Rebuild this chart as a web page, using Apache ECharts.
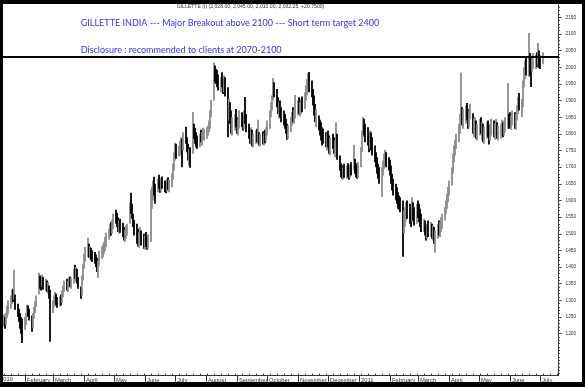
<!DOCTYPE html>
<html><head><meta charset="utf-8">
<script src="https://cdn.jsdelivr.net/npm/echarts@6/dist/echarts.min.js"></script>
<style>html,body{margin:0;padding:0;background:#fff;overflow:hidden}#c{width:585px;height:387px}</style>
</head><body><div id="c"></div>
<script>
// ---- data (one entry per trading day, weekdays from startDate) ----
const startDate = [2010, 0, 11];
const hi = [
1258,1250,1262,1285,1300, 1315,1332,1335,1392,1318, 1290,1275,1262,1250,1245, 1250,1262,1287,1285,1275,
1255,1262,1280,1298,1315, 1383,1375,1368,1378,1370, 1365,1360,1355,1345,1332, 1300,1315,1325,1320,1310,
1312,1318,1330,1345,1360, 1365,1358,1370,1372,1368, 1395,1407,1400,1395,1370, 1342,1375,1410,1440,1460,
1488,1470,1462,1458,1450, 1445,1438,1428,1420,1450, 1462,1468,1475,1490,1503, 1515,1530,1535,1542,1560,
1572,1563,1550,1540,1545, 1533,1520,1512,1525,1530, 1595,1623,1590,1560,1542, 1530,1515,1505,1520,1510,
1500,1495,1505,1490,1498, 1632,1641,1660,1671,1650, 1665,1677,1660,1668,1672, 1660,1655,1665,1670,1662,
1680,1710,1745,1773,1770, 1765,1780,1790,1785,1805, 1821,1790,1770,1755,1760, 1866,1830,1818,1805,1795,
1800,1812,1805,1818,1815, 1820,1825,1840,1870,1902, 2014,2005,1995,1992,1978, 1970,1985,1965,1975,1970,
1940,1905,1895,1870,1850, 1860,1875,1850,1845,1870, 1865,1855,1870,1911,1860, 1830,1815,1820,1812,1800,
1810,1815,1842,1805,1800, 1808,1800,1812,1820,1840, 1870,1895,1915,1968,1955, 1935,1910,1895,1900,1880,
1870,1860,1845,1830,1825, 1850,1865,1880,1870,1917, 1900,1910,1895,1905,1912, 1925,1945,1965,1983,1986,
1960,1935,1915,1890,1875, 1855,1842,1835,1820,1815, 1805,1800,1810,1795,1790, 1800,1790,1780,1835,1800,
1735,1712,1705,1700,1710, 1705,1712,1700,1708,1715, 1767,1725,1712,1705,1715, 1760,1810,1851,1845,1830,
1820,1800,1810,1805,1790, 1765,1745,1730,1710,1700, 1700,1720,1740,1752,1745, 1730,1722,1705,1680,1665,
1650,1640,1625,1615,1610, 1600,1570,1580,1595,1600, 1590,1575,1610,1595,1580, 1590,1600,1590,1575,1560,
1545,1540,1525,1530,1540, 1535,1530,1525,1520,1510, 1530,1540,1535,1550,1560, 1580,1600,1620,1641,1660,
1700,1740,1765,1782,1800, 1830,1860,1984,1880,1875, 1885,1893,1875,1870,1890, 1862,1845,1851,1840,1830,
1845,1850,1835,1830,1820, 1835,1840,1825,1830,1845, 1840,1830,1845,1835,1825, 1830,1842,1835,1840,1850,
1953,1860,1865,1855,1870, 1865,1860,1885,1910,1923, 1905,1960,2000,2020,2031, 2103,2043,2030,2035,2043,
2040,2045,2073,2050,2035, 2045];
const lo = [
1222,1215,1225,1248,1258, 1275,1290,1295,1302,1272, 1250,1235,1215,1200,1172, 1212,1225,1250,1252,1240,
1206,1218,1245,1262,1280, 1318,1335,1330,1340,1332, 1328,1325,1320,1305,1176, 1262,1280,1290,1285,1278,
1282,1285,1292,1310,1325, 1330,1325,1338,1340,1335, 1350,1365,1355,1350,1335, 1305,1315,1360,1395,1415,
1430,1428,1425,1420,1415, 1410,1400,1385,1368,1405, 1425,1430,1440,1448,1460, 1482,1490,1495,1500,1515,
1530,1520,1505,1500,1503, 1490,1480,1475,1485,1495, 1530,1560,1545,1520,1495, 1470,1462,1458,1475,1465,
1455,1452,1460,1452,1455, 1475,1575,1600,1615,1590, 1625,1635,1623,1628,1635, 1625,1622,1628,1632,1625,
1640,1662,1690,1720,1725, 1731,1735,1745,1700,1750, 1770,1745,1720,1705,1698, 1740,1785,1770,1760,1755,
1760,1775,1765,1782,1780, 1785,1795,1805,1815,1850, 1900,1955,1950,1940,1930, 1925,1940,1920,1925,1912,
1790,1840,1830,1800,1795, 1810,1820,1800,1795,1815, 1820,1810,1815,1830,1805, 1785,1770,1768,1762,1760,
1770,1775,1770,1765,1762, 1768,1765,1772,1778,1795, 1815,1850,1870,1900,1910, 1880,1860,1845,1850,1835,
1825,1815,1800,1782,1785, 1805,1825,1835,1830,1845, 1855,1860,1852,1860,1865, 1875,1900,1915,1930,1925,
1910,1885,1855,1835,1820, 1810,1795,1780,1765,1770, 1760,1750,1760,1740,1735, 1755,1740,1730,1760,1722,
1690,1670,1665,1662,1668, 1665,1670,1662,1668,1675, 1690,1680,1670,1665,1668, 1700,1745,1790,1795,1775,
1765,1745,1755,1750,1735, 1715,1700,1680,1665,1650, 1611,1675,1695,1705,1700, 1690,1675,1650,1630,1615,
1600,1590,1575,1572,1565, 1431,1500,1520,1540,1545, 1530,1520,1535,1540,1525, 1530,1548,1535,1520,1505,
1505,1495,1480,1485,1490, 1490,1485,1480,1470,1443, 1485,1495,1490,1505,1515, 1540,1560,1575,1595,1615,
1645,1680,1715,1735,1755, 1775,1800,1830,1825,1815, 1830,1840,1815,1820,1845, 1800,1790,1800,1785,1780,
1795,1800,1780,1775,1770, 1785,1790,1768,1780,1795, 1790,1782,1795,1785,1780, 1785,1795,1790,1795,1805,
1815,1815,1820,1812,1825, 1815,1812,1840,1860,1870, 1850,1880,1940,1965,1975, 1971,1975,1941,1985,1995,
1995,2000,2005,1998,1995, 2010];
const cl = [
1240,1228,1255,1270,1282, 1300,1318,1310,1330,1285, 1262,1248,1230,1222,1212, 1238,1255,1278,1262,1250,
1222,1250,1272,1290,1305, 1362,1350,1345,1365,1342, 1350,1335,1340,1318,1262, 1290,1305,1312,1298,1292,
1300,1295,1318,1335,1348, 1342,1350,1360,1352,1358, 1380,1372,1385,1360,1345, 1318,1365,1398,1425,1445,
1450,1440,1452,1435,1430, 1425,1412,1400,1410,1438, 1445,1455,1465,1480,1492, 1505,1520,1510,1530,1548,
1545,1530,1515,1525,1512, 1505,1492,1500,1510,1520, 1580,1575,1555,1530,1505, 1490,1480,1495,1500,1478,
1470,1485,1475,1468,1480, 1610,1625,1640,1632,1620, 1648,1640,1635,1655,1645, 1638,1632,1650,1640,1645,
1670,1700,1732,1755,1740, 1750,1765,1775,1760,1795, 1780,1755,1735,1745,1738, 1815,1800,1785,1775,1770,
1790,1785,1795,1800,1805, 1810,1815,1830,1860,1890, 1990,1975,1968,1955,1948, 1960,1950,1935,1962,1925,
1850,1880,1845,1820,1835, 1845,1830,1815,1830,1848, 1835,1825,1850,1845,1820, 1800,1790,1805,1780,1788,
1795,1785,1790,1778,1790, 1780,1795,1788,1810,1830, 1860,1885,1905,1945,1925, 1895,1875,1880,1862,1850,
1840,1828,1815,1800,1810, 1840,1850,1845,1862,1870, 1885,1875,1880,1890,1885, 1915,1930,1950,1960,1945,
1930,1900,1870,1850,1860, 1825,1815,1800,1790,1785, 1775,1785,1770,1760,1775, 1770,1758,1765,1790,1735,
1705,1690,1680,1688,1682, 1690,1685,1678,1695,1690, 1710,1692,1688,1680,1700, 1750,1800,1835,1810,1790,
1780,1770,1795,1760,1748, 1730,1715,1695,1680,1670, 1685,1705,1725,1735,1715, 1705,1690,1665,1645,1630,
1615,1605,1590,1585,1580, 1520,1545,1560,1575,1560, 1555,1540,1580,1565,1550, 1575,1560,1545,1530,1520,
1525,1510,1500,1515,1505, 1520,1500,1510,1490,1495, 1515,1510,1525,1540,1545, 1570,1590,1605,1630,1650,
1690,1725,1750,1770,1790, 1815,1845,1865,1850,1860, 1870,1855,1830,1860,1875, 1815,1825,1835,1800,1815,
1830,1810,1820,1795,1805, 1815,1800,1790,1815,1820, 1805,1815,1830,1800,1810, 1815,1825,1810,1830,1835,
1845,1840,1835,1845,1850, 1840,1855,1875,1895,1885, 1890,1950,1985,2005,1995, 2030,2010,1990,2020,2025,
2030,2015,2040,2020,2011.5, 2032.25];

const yTickLabels = [1200,1250,1300,1350,1400,1450,1500,1550,1600,1650,1700,1750,1800,1850,1900,1950,2000,2050,2100,2150];
const monthLabelDates = [[2010,1],[2010,2],[2010,3],[2010,4],[2010,5],[2010,6],[2010,7],[2010,8],[2010,9],[2010,10],[2010,11],
  [2011,0],[2011,1],[2011,2],[2011,3],[2011,4],[2011,5],[2011,6]];
const monthNames = ['January','February','March','April','May','June','July','August','September','October','November','December'];
const refLevel = 2032;
const headerText = 'GILLETTE (I) (2,028.00, 2,045.00, 2,010.00, 2,032.25, +20.7500)';
const note1 = 'GILLETTE INDIA --- Major Breakout above 2100 --- Short term target 2400';
const note2 = 'Disclosure : recommended to clients at 2070-2100';

// ---- build ----
const DAY = 86400000;
const dates = [];
let t = Date.UTC(startDate[0], startDate[1], startDate[2]);
while (dates.length < hi.length) {
  const wd = new Date(t).getUTCDay();
  if (wd !== 0 && wd !== 6) dates.push(t);
  t += DAY;
}
const xMin = Date.UTC(2010,0,10);
const xMax = Date.UTC(2011,6,19) + DAY/2;
const monthTicks = monthLabelDates.map(d => Date.UTC(d[0], d[1], 1));
const weekTicks = [];
for (let w = Date.UTC(2010,0,11); w < xMax; w += 7*DAY) weekTicks.push(w);
const yMinor = [];
for (let v = 1080; v <= 2180; v += 10) yMinor.push(v);

const barData = dates.map((d,i) => [d, lo[i], hi[i], (i > 0 && cl[i] < cl[i-1]) ? 1 : 0]);

// font size that makes a text line as wide as in the reference
const mctx = document.createElement('canvas').getContext('2d');
function fitSize(text, family, width) {
  mctx.font = '100px ' + family;
  return 100 * width / mctx.measureText(text).width;
}
const noteFamily = 'Lato';
const noteSize = fitSize(note1, noteFamily, 299);
const axisFont = 'Liberation Sans';
const headSize = fitSize(headerText, axisFont, 148);

const chart = echarts.init(document.getElementById('c'), null, {renderer:'canvas'});
chart.setOption({
  animation: false,
  backgroundColor: '#fff',
  grid: {left: 3, right: 26.5, top: 5, bottom: 11.3},
  xAxis: [{
    type: 'value', min: xMin, max: xMax,
    axisLine: {show: true, lineStyle: {color: '#333', width: 1}},
    axisTick: {show: true, customValues: monthTicks, length: 6, lineStyle: {color: '#333'}},
    axisLabel: {customValues: monthTicks, align: 'left', margin: 1.5, padding: [0,0,0,2],
      fontSize: 5.8, fontFamily: axisFont, color: '#333',
      formatter: v => { const d = new Date(v); return d.getUTCMonth() === 0 ? String(d.getUTCFullYear()) : monthNames[d.getUTCMonth()]; }},
    splitLine: {show: false}
  },{
    type: 'value', min: xMin, max: xMax, position: 'bottom',
    axisLine: {show: false},
    axisTick: {show: true, customValues: weekTicks, length: 2, inside: true, lineStyle: {color: '#333'}},
    axisLabel: {show: false}, splitLine: {show: false}
  }],
  yAxis: [{
    type: 'value', position: 'right', min: 1073.9, max: 2186.9,
    axisLine: {show: true, lineStyle: {color: '#333', width: 1}},
    axisTick: {show: true, customValues: yTickLabels, length: 3, lineStyle: {color: '#333'}},
    axisLabel: {customValues: yTickLabels, margin: 7, fontSize: 4.8, fontFamily: axisFont, color: '#333',
      formatter: v => String(v)},
    splitLine: {show: false}
  },{
    type: 'value', position: 'right', min: 1073.9, max: 2186.9,
    axisLine: {show: false},
    axisTick: {show: true, customValues: yMinor, length: 1.5, lineStyle: {color: '#555'}},
    axisLabel: {show: false}, splitLine: {show: false}
  }],
  series: [{
    type: 'custom', xAxisIndex: 0, yAxisIndex: 0,
    data: barData,
    encode: {x: 0, y: [1, 2]},
    renderItem: (params, api) => {
      const x = api.value(0);
      const pLo = api.coord([x, api.value(1)]);
      const pHi = api.coord([x, api.value(2)]);
      return {type: 'rect',
        shape: {x: pLo[0] - 0.9, y: pHi[1], width: 1.8, height: Math.max(1, pLo[1] - pHi[1])},
        style: {fill: api.value(3) ? '#000' : '#8c8c8c'}};
    },
    markLine: {silent: true, symbol: 'none', label: {show: false},
      lineStyle: {color: '#000', width: 2, type: 'solid'},
      data: [{yAxis: refLevel}]}
  }],
  graphic: [
    {type: 'text', x: 176.7, y: 6.7, style: {text: headerText, fontSize: headSize, fontFamily: axisFont, fill: '#333', verticalAlign: 'middle'}},
    {type: 'text', x: 80.7, y: 23.4, style: {text: note1, fontSize: noteSize, fontFamily: noteFamily, fill: '#3333ff', verticalAlign: 'middle'}},
    {type: 'text', x: 80.7, y: 49.7, style: {text: note2, fontSize: noteSize, fontFamily: noteFamily, fill: '#3333ff', verticalAlign: 'middle'}},
    {type: 'text', x: 0, y: 376.5, style: {text: '2010', fontSize: 5.8, fontFamily: axisFont, fill: '#333'}},
    {type: 'rect', z: 100, shape: {x: 0, y: 0, width: 585, height: 4}, style: {fill: '#000'}},
    {type: 'rect', z: 100, shape: {x: 0, y: 0, width: 3, height: 387}, style: {fill: '#000'}},
    {type: 'rect', z: 100, shape: {x: 582, y: 0, width: 3, height: 387}, style: {fill: '#000'}},
    {type: 'rect', z: 100, shape: {x: 0, y: 382, width: 585, height: 5}, style: {fill: '#000'}}
  ]
});
</script></body></html>
